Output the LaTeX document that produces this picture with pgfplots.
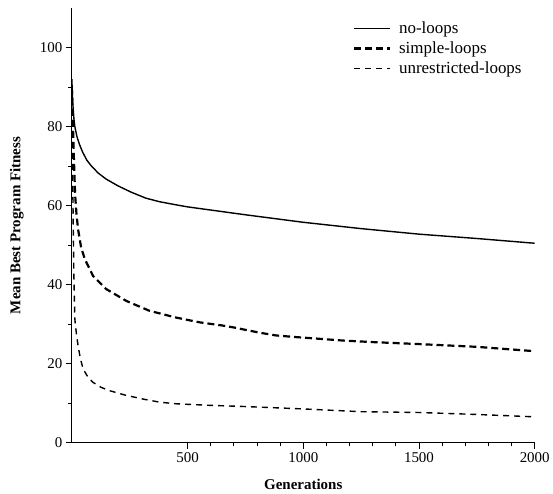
\documentclass[border=0pt]{standalone}
\usepackage{fontspec}
\setmainfont{Liberation Serif}
\usepackage{pgfplots}
\pgfplotsset{compat=1.18}

\begin{document}
\begin{tikzpicture}
\begin{axis}[
    scale only axis,
    width=464pt, height=436pt,
    xmin=0, xmax=2000, ymin=0, ymax=110,
    axis x line=bottom, axis y line=left,
    axis line style={-, line width=1pt},
    xtick={500,1000,1500,2000},
    ytick={0,20,40,60,80,100},
    minor x tick num=4, minor y tick num=1,
    tick align=outside,
    major tick length=6pt, minor tick length=3.5pt,
    every tick/.style={black, line width=0.9pt},
    tick label style={font=\fontsize{15}{18}\selectfont},
    /pgf/number format/assume math mode=true,
    /pgf/number format/1000 sep={},
    xlabel={\textbf{Generations}},
    ylabel={\textbf{Mean Best Program Fitness}},
    label style={font=\fontsize{15}{18}\selectfont},
    xlabel style={at={(axis description cs:0.5,0)}, anchor=center, yshift=-42pt},
    ylabel style={at={(axis description cs:0,0.5)}, anchor=center, rotate=0, yshift=55pt},
    legend style={draw=none, fill=none, at={(1,1)}, anchor=north east,
      xshift=-8pt, yshift=-10pt,
      font=\fontsize{17}{20}\selectfont, row sep=2.5pt},
    legend cell align=left,
    legend image code/.code={\draw[#1] (0pt,0pt) -- (36pt,0pt); \path (42pt,0pt);},
]
\coordinate (BL) at (rel axis cs:0,0);
\coordinate (TR) at (rel axis cs:1,1);
% no-loops
\addplot[black, line width=1.4pt] coordinates {
(0,92) (4,86) (9,82) (13,80) (22,77.5) (33,75.5) (47,73.5) (65,71.5) (85,70)
(115,68.2) (149,66.7) (200,65) (257,63.4) (320,61.9) (379,61.0) (452,60.2)
(500,59.7) (600,58.9) (750,57.7) (1000,55.8) (1250,54.2) (1500,52.8)
(1750,51.7) (2000,50.5)};
% simple-loops
\addplot[black, line width=2.2pt, dash pattern=on 7pt off 4pt] coordinates {
(0,90) (4,82) (9,72) (14,63) (20,58) (27,54) (40,49.5) (56,46.5) (92,42.2)
(149,38.9) (236,35.9) (336,33.4) (451,31.7) (552,30.5) (650,29.7) (700,29.2)
(767,28.4) (810,27.9) (880,27.2) (960,26.8) (1055,26.4) (1169,25.9)
(1300,25.5) (1500,25.0) (1750,24.3) (2000,23.2)};
% unrestricted-loops
\addplot[black, line width=1.4pt, dash pattern=on 6pt off 5pt] coordinates {
(0,90) (3,72) (6,55) (9,42) (13,31.3) (20,27.5) (27,24.6) (37,21.3) (49,18.7)
(70,16.6) (92,15.3) (125,14.1) (164,13.2) (230,12.1) (307,11.1) (380,10.3)
(451,9.9) (600,9.5) (750,9.2) (1000,8.6) (1250,7.9) (1500,7.7) (1750,7.2)
(2000,6.6)};
\legend{no-loops, simple-loops, unrestricted-loops}
\end{axis}
\path (BL) ++(-72pt,-50pt);
\path (TR) ++(17pt,8pt);
\end{tikzpicture}
\end{document}
